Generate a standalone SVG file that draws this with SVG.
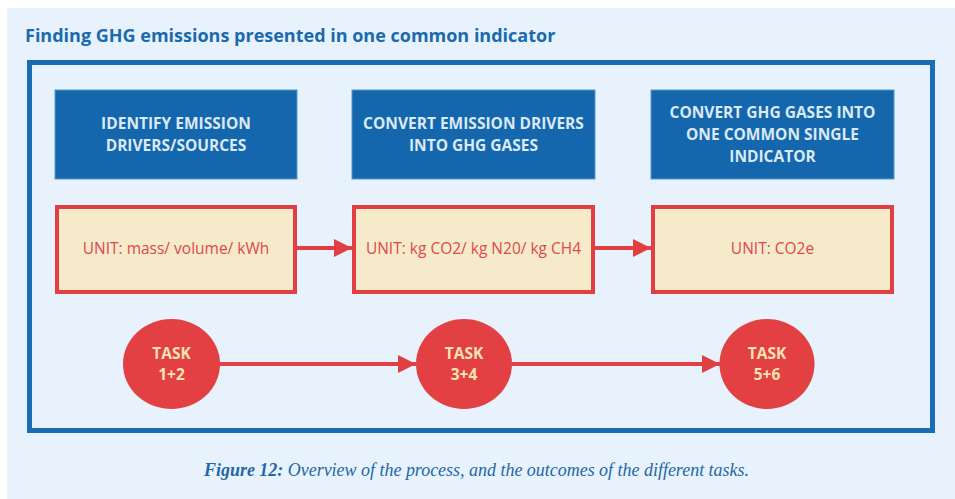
<svg xmlns="http://www.w3.org/2000/svg" width="955" height="499" viewBox="0 0 955 499">
  <style>
    .title { font-family: "Open Sans", "Liberation Sans", sans-serif; font-weight: 700; font-size: 18px; fill: #1b6aae; }
    .step { fill: #1467ad; stroke: #5a97cc; stroke-width: 1; }
    .step-text { font-family: "Open Sans", "Liberation Sans", sans-serif; font-weight: 700; font-size: 15.5px; fill: #dce9f6; text-anchor: middle; }
    .unit { fill: #f5ebcb; stroke: #e23f43; stroke-width: 4; }
    .unit-text { font-family: "Open Sans", "Liberation Sans", sans-serif; font-size: 15.5px; fill: #e0474a; text-anchor: middle; }
    .task { fill: #e24043; }
    .task-text { font-family: "Open Sans", "Liberation Sans", sans-serif; font-weight: 700; font-size: 15.5px; fill: #f8e3b2; text-anchor: middle; }
    .link { stroke: #e23f43; stroke-width: 4; fill: none; }
    .caption { font-family: "Liberation Serif", "DejaVu Serif", serif; font-style: italic; font-size: 19px; fill: #1e67a8; }
  </style>
  <defs>
    <marker id="head" viewBox="0 0 10 10" refX="10" refY="5" markerWidth="4.6" markerHeight="4.6" markerUnits="strokeWidth" orient="auto">
      <path d="M0,0 L10,5 L0,10 Z" fill="#e23f43"/>
    </marker>
  </defs>

  <!-- page background -->
  <rect x="0" y="0" width="955" height="499" fill="#ffffff"/>
  <rect x="7" y="8" width="948" height="491" fill="#e8f2fc"/>

  <text class="title" x="25" y="42">Finding GHG emissions presented in one common indicator</text>

  <!-- outer frame -->
  <rect x="29.5" y="62.5" width="903" height="368" fill="none" stroke="#1a6db3" stroke-width="5"/>

  <!-- connectors -->
  <g id="connectors">
    <line class="link" x1="297" y1="248" x2="352" y2="248" marker-end="url(#head)"/>
    <line class="link" x1="595" y1="248" x2="651" y2="248" marker-end="url(#head)"/>
    <line class="link" x1="219" y1="364" x2="416" y2="364" marker-end="url(#head)"/>
    <line class="link" x1="512" y1="364" x2="720" y2="364" marker-end="url(#head)"/>
  </g>

  <!-- step headers -->
  <g id="step1">
    <rect class="step" x="55" y="90" width="242" height="89"/>
    <text class="step-text" x="176" y="129">IDENTIFY EMISSION</text>
    <text class="step-text" x="176" y="151">DRIVERS/SOURCES</text>
  </g>
  <g id="step2">
    <rect class="step" x="352" y="90" width="243" height="89"/>
    <text class="step-text" x="473.5" y="129">CONVERT EMISSION DRIVERS</text>
    <text class="step-text" x="473.5" y="151">INTO GHG GASES</text>
  </g>
  <g id="step3">
    <rect class="step" x="651" y="90" width="243" height="89"/>
    <text class="step-text" x="772.5" y="118">CONVERT GHG GASES INTO</text>
    <text class="step-text" x="772.5" y="140">ONE COMMON SINGLE</text>
    <text class="step-text" x="772.5" y="162">INDICATOR</text>
  </g>

  <!-- units -->
  <g id="unit1">
    <rect class="unit" x="57" y="207" width="238" height="85"/>
    <text class="unit-text" x="176" y="254">UNIT: mass/ volume/ kWh</text>
  </g>
  <g id="unit2">
    <rect class="unit" x="354" y="207" width="239" height="85"/>
    <text class="unit-text" x="473.5" y="254">UNIT: kg CO2/ kg N20/ kg CH4</text>
  </g>
  <g id="unit3">
    <rect class="unit" x="653" y="207" width="239" height="85"/>
    <text class="unit-text" x="772.5" y="254">UNIT: CO2e</text>
  </g>

  <!-- tasks -->
  <g id="task1">
    <ellipse class="task" cx="171.5" cy="364" rx="48.5" ry="45"/>
    <text class="task-text" x="171.5" y="359">TASK</text>
    <text class="task-text" x="171.5" y="380">1+2</text>
  </g>
  <g id="task2">
    <ellipse class="task" cx="464" cy="364" rx="48" ry="45"/>
    <text class="task-text" x="464" y="359">TASK</text>
    <text class="task-text" x="464" y="380">3+4</text>
  </g>
  <g id="task3">
    <ellipse class="task" cx="767" cy="364" rx="47.5" ry="45"/>
    <text class="task-text" x="767" y="359">TASK</text>
    <text class="task-text" x="767" y="380">5+6</text>
  </g>

  <text class="caption" x="204" y="476" textLength="545" lengthAdjust="spacingAndGlyphs"><tspan font-weight="700">Figure 12:</tspan> Overview of the process, and the outcomes of the different tasks.</text>
</svg>
